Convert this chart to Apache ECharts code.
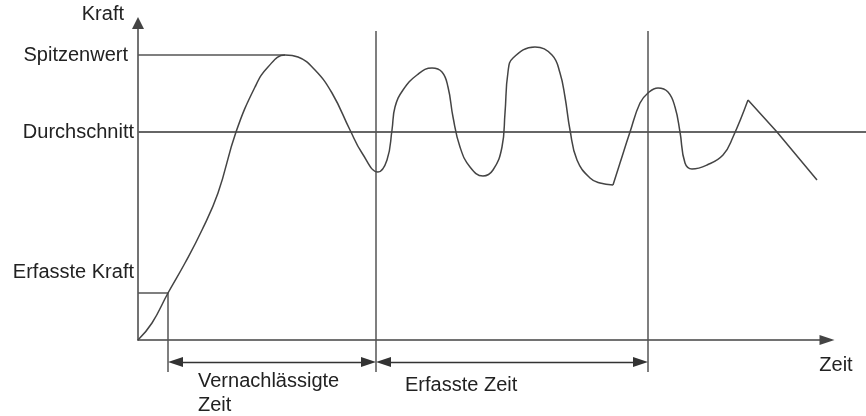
<!DOCTYPE html>
<html>
<head>
<meta charset="utf-8">
<script src="https://cdn.jsdelivr.net/npm/echarts@6/dist/echarts.min.js"></script>
<style>
html,body{margin:0;padding:0;background:#fff;}
#chart{width:866px;height:416px;}
</style>
</head>
<body>
<div id="chart"></div>
<script>
// Force curve (time, force), arbitrary units
const curveTime  = [0,14,30,47,64,80,98,117,130,147,160,177,194,212,224,240,249,254,257,265,279,294,304,310,315,322,332,345,355,364,367,370,375,397,414,422,427,432,439,452,462,475,482,492,502,510,520,530,537,542,547,554,569,585,595,610,639,679];
const curveForce = [0,17,47,77,110,147,208,253,273,285,283,270,247,210,187,168,180,210,233,250,265,272,268,253,223,193,173,164,170,193,227,268,282,293,285,267,243,210,180,162,157,155,177,208,237,247,252,248,233,208,177,171,175,185,203,240,208,160];
const sharpCorners = [475, 610];   // times where the curve has a kink
const straightFrom = 610;          // the curve is a straight line after this time

// Reference levels
const levelNames  = ['Spitzenwert', 'Durchschnitt', 'Erfasste Kraft'];
const levelValues = [285, 208, 47];
const levelLabelValues = [285, 208, 68];
const peakTime = 147;

// Time marks
const timeMarks = [30, 238, 510];   // end of ignored start, start / end of captured time
const spanNames = ['Vernachlässigte\nZeit', 'Erfasste Zeit'];

const axisMax = { time: 689, force: 317 };
const xEnd = 728;          // right end of the average line
const lowExt = -32;        // how far the marker lines go below the time axis
const dimLevel = -22;      // level of the dimension arrows
const markTop = 309;       // top of the vertical marker lines
const arrowLen = 15;       // arrow head length (time units == px here)
const half = arrowLen / 2;

const ink = '#444';
const font = 'Liberation Sans, Arial, sans-serif';

// split the curve at its sharp corners
const segments = [];
let cur = [];
curveTime.forEach((t, i) => {
  cur.push([t, curveForce[i]]);
  if (sharpCorners.indexOf(t) >= 0 && cur.length > 1) {
    segments.push(cur);
    cur = [[t, curveForce[i]]];
  }
});
if (cur.length > 1) segments.push(cur);

const chart = echarts.init(document.getElementById('chart'), null, { renderer: 'canvas' });

chart.setOption({
  animation: false,
  backgroundColor: '#fff',
  grid: { left: 138, right: 39, top: 23, bottom: 76, containLabel: false },
  xAxis: {
    type: 'value', min: 0, max: axisMax.time,
    name: 'Zeit', nameLocation: 'end', nameGap: 0,
    nameTextStyle: { fontFamily: font, fontSize: 20, color: '#222', align: 'center', verticalAlign: 'top', padding: [15, 0, 0, 18] },
    axisLine: { show: true, onZero: false, symbol: ['none', 'triangle'], symbolSize: [10, 15], lineStyle: { color: '#444', width: 1.5 } },
    axisTick: { show: false }, axisLabel: { show: false }, splitLine: { show: false }
  },
  yAxis: {
    type: 'value', min: 0, max: axisMax.force,
    name: 'Kraft', nameLocation: 'end', nameGap: 9,
    nameTextStyle: { fontFamily: font, fontSize: 20, color: '#222', align: 'right', verticalAlign: 'middle', padding: [0, 14, 0, 0] },
    axisLine: { show: true, onZero: false, symbol: ['none', 'triangle'], symbolSize: [12, 12], lineStyle: { color: '#444', width: 1.5 } },
    axisTick: { show: false },
    splitLine: { show: false },
    axisLabel: {
      show: true, margin: 4, fontFamily: font, fontSize: 20, color: '#222',
      customValues: levelLabelValues,
      formatter: function (v) {
        const i = levelLabelValues.indexOf(v);
        if (i < 0) return '';
        return i === 0 ? '{p|' + levelNames[i] + '}' : levelNames[i];
      },
      rich: { p: { fontFamily: font, fontSize: 20, color: '#222', padding: [0, 6, 0, 0] } }
    }
  },
  series: [
    {
      type: 'lines', coordinateSystem: 'cartesian2d', polyline: true, clip: false, silent: true, z: 1,
      symbol: 'none',
      lineStyle: { color: '#555', width: 1.5, opacity: 1 },
      data: [
        { coords: [[0, levelValues[0]], [peakTime, levelValues[0]]] },
        { coords: [[0, levelValues[1]], [xEnd, levelValues[1]]], lineStyle: { width: 2, color: '#666' } },
        { coords: [[0, levelValues[2]], [timeMarks[0], levelValues[2]], [timeMarks[0], lowExt]] },
        { coords: [[timeMarks[1], lowExt], [timeMarks[1], markTop]] },
        { coords: [[timeMarks[2], lowExt], [timeMarks[2], markTop]] }
      ]
    },
    {
      type: 'lines', coordinateSystem: 'cartesian2d', clip: false, silent: true, z: 2,
      symbol: ['triangle', 'triangle'], symbolSize: [[10, arrowLen], [10, arrowLen]],
      lineStyle: { color: '#333', width: 1.3, opacity: 1 },
      itemStyle: { color: '#111' },
      label: {
        show: true, position: 'insideStartBottom', distance: [30 - half, 7],
        fontFamily: font, fontSize: 20, color: '#222', lineHeight: 24, align: 'left',
        formatter: p => p.name
      },
      data: [
        { name: spanNames[0], coords: [[timeMarks[0] + half, dimLevel], [timeMarks[1] - half, dimLevel]] },
        { name: spanNames[1], coords: [[timeMarks[1] + half, dimLevel], [timeMarks[2] - half, dimLevel]], label: { distance: [29 - half, 11] } }
      ]
    }
  ].concat(segments.map(seg => ({
    type: 'line', symbol: 'none', clip: false, silent: true, z: 3,
    smooth: seg[0][0] >= straightFrom ? false : 0.45,
    lineStyle: { color: ink, width: 1.5 },
    data: seg
  })))
});
</script>
</body>
</html>
